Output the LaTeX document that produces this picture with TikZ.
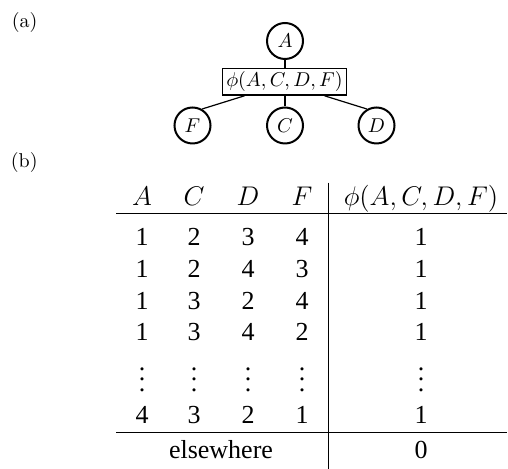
\RequirePackage{fix-cm}
\documentclass[tikz,border=0pt]{standalone}
\usepackage{fontspec}
\newfontfamily\tnr{Liberation Serif}
\newcommand\myvd{\vbox{\baselineskip=5.25pt\lineskiplimit=-20pt\hbox{.}\hbox{.}\hbox{.}}}
\begin{document}
\begin{tikzpicture}[x=0.5pt,y=-0.5pt,
  vnode/.style={circle,draw,line width=1pt,minimum size=18pt,inner sep=0pt,font=\fontsize{10}{12}\selectfont},
  factor/.style={rectangle,draw,line width=0.8pt,minimum width=62pt,minimum height=13.3pt,inner sep=0pt,font=\fontsize{10}{12}\selectfont},
  link/.style={line width=0.6pt},
  lbl/.style={font=\fontsize{10}{12}\selectfont,inner sep=0pt},
  hd/.style={font=\fontsize{13.5}{16}\selectfont,anchor=base,inner sep=0pt},
  cell/.style={font=\fontsize{13}{15}\selectfont\tnr,anchor=base,inner sep=0pt},
  rule/.style={line width=0.5pt}]
\useasboundingbox (0,0) rectangle (508,469);
% (a) graph
\node[lbl] (la) at (24.7,22.5) {(a)};
\node[lbl] (lb) at (24.2,162.5) {(b)};
\node[vnode] (A) at (285,41) {$A$};
\node[factor] (phi) at (284.5,81.7) {$\phi(A,C,D,F)$};
\node[vnode] (F) at (192.5,125.5) {$F$};
\node[vnode] (C) at (285,125.5) {$C$};
\node[vnode] (D) at (376.5,125.5) {$D$};
\draw[link] (A.south) -- (A.south |- phi.north);
\draw[link] (C.north |- phi.south) -- (C.north);
\draw[link] ([xshift=-20pt]phi.south) -- (F.60);
\draw[link] ([xshift=20pt]phi.south) -- (D.120);
% (b) table
\coordinate (tl) at (116,213.5);
\coordinate (tr) at (507,213.5);
\coordinate (bl) at (116,432.5);
\coordinate (br) at (507,432.5);
\coordinate (vt) at (328.3,182.7);
\coordinate (vb) at (328.3,469);
\draw[rule] (tl) -- (tr);
\draw[rule] (bl) -- (br);
\draw[rule] (vt) -- (vb);
\node[hd] (hA) at (142,205.5) {$A$};
\node[hd] (hC) at (194,205.5) {$C$};
\node[hd] (hD) at (248,205.5) {$D$};
\node[hd] (hF) at (302,205.5) {$F$};
\node[hd] (hphi) at (421,205.5) {$\phi(A,C,D,F)$};
\foreach \r/\y/\a/\b/\c/\d in {1/246/1/2/3/4, 2/277.5/1/2/4/3, 3/309.5/1/3/2/4, 4/341/1/3/4/2, 6/423/4/3/2/1}{
  \node[cell] (r\r a) at (142,\y) {\a};
  \node[cell] (r\r c) at (194,\y) {\b};
  \node[cell] (r\r d) at (248,\y) {\c};
  \node[cell] (r\r f) at (302,\y) {\d};
  \node[cell] (r\r p) at (421,\y) {1};
}
\foreach \n/\x in {a/142,c/194,d/248,f/302,p/421}{
  \node[cell] (r5\n) at (\x,391.5) {\myvd};
}
\node[cell] (else) at (221,458.5) {elsewhere};
\node[cell] (zero) at (421,458.5) {0};
\end{tikzpicture}
\end{document}
